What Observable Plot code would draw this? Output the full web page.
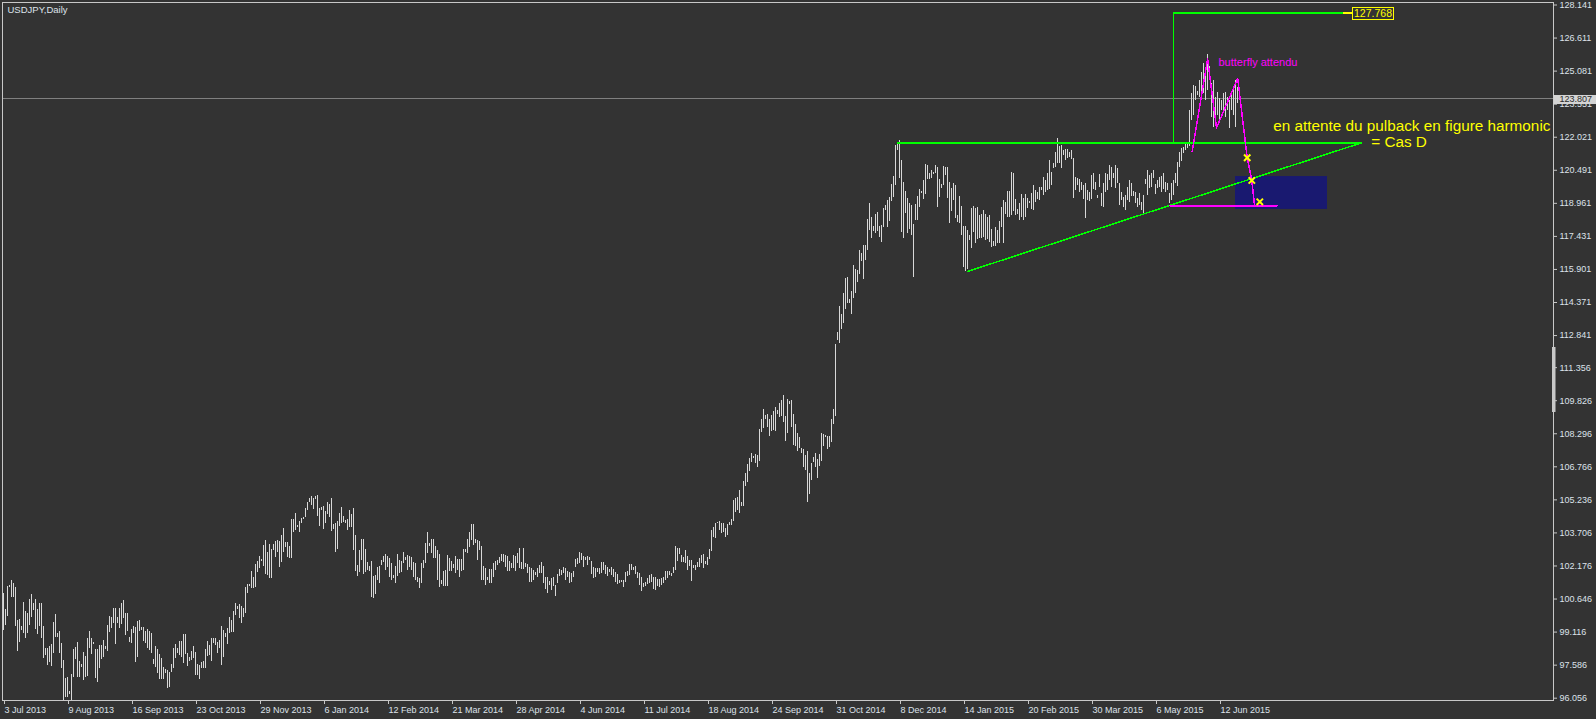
<!DOCTYPE html>
<html><head><meta charset="utf-8">
<script src="https://cdn.jsdelivr.net/npm/d3@7"></script>
<script src="https://cdn.jsdelivr.net/npm/@observablehq/plot@0.6"></script>
<style>
html,body{margin:0;padding:0;background:#333333;overflow:hidden}
#chart{width:1596px;height:719px}
</style></head><body>
<div id="chart"></div>
<script>
// Daily USDJPY bars (index 0 = 3 Jul 2013), high and low of each bar
const highs = [
100.89,100.16,101.23,101.27,101.50,101.38,101.20,99.65,99.70,99.39,
100.49,100.07,99.96,100.62,100.86,100.46,100.62,100.16,100.46,100.46,
99.37,98.37,98.34,98.45,98.54,99.58,99.93,99.07,99.16,98.60,
97.80,96.95,97.00,96.37,97.17,98.31,98.42,98.65,97.75,97.62,
98.16,97.99,98.83,99.14,98.83,98.62,98.29,98.29,98.51,98.48,
98.73,98.45,99.42,99.84,99.81,100.19,100.19,99.81,100.19,100.46,
100.58,99.99,99.99,98.88,99.22,99.37,99.34,99.61,99.65,99.31,
99.34,99.16,99.22,99.14,99.07,97.83,98.45,98.29,98.06,97.88,
97.49,97.37,97.34,97.26,97.62,98.34,98.54,98.34,98.68,98.68,
98.99,98.99,98.11,97.95,98.23,98.45,98.19,97.62,97.57,97.72,
97.77,98.29,98.68,98.50,98.83,98.83,98.83,98.65,98.73,99.39,
99.19,99.05,99.30,99.81,99.65,100.08,100.42,100.30,100.39,100.30,
100.22,101.20,101.32,101.32,101.92,101.63,102.24,102.40,102.61,102.47,
103.12,103.36,102.81,103.17,102.94,103.17,103.32,103.36,103.32,103.59,
103.90,103.28,103.25,103.08,104.31,104.31,104.59,104.05,104.23,104.36,
104.40,104.82,105.13,105.28,105.39,105.28,105.39,105.44,104.82,104.87,
104.93,104.70,105.10,105.02,105.28,104.08,104.13,104.25,104.62,104.87,
104.46,104.28,104.31,104.74,104.56,104.82,103.59,102.20,102.89,103.39,
103.39,102.94,102.35,102.15,102.40,101.69,101.74,102.12,102.15,102.45,
102.61,102.69,102.61,102.51,102.28,101.74,102.15,102.71,102.43,102.38,
102.81,102.55,102.66,102.63,102.55,102.35,102.28,101.66,101.58,102.31,
102.43,103.20,103.74,103.23,103.40,103.40,103.08,102.89,102.69,101.50,
101.92,101.97,102.66,102.51,102.38,102.23,102.62,102.46,102.46,102.46,
102.94,102.92,103.40,103.71,104.10,104.10,103.39,103.36,103.32,103.08,
102.17,102.04,101.66,102.00,102.01,102.28,102.40,102.43,102.58,102.69,
102.71,102.66,102.62,102.40,102.28,102.66,102.62,102.74,102.97,102.35,
103.00,102.28,102.23,102.12,102.04,101.97,101.89,102.04,102.20,102.35,
102.15,101.63,101.63,101.47,101.58,101.63,101.27,101.78,102.00,101.97,
102.12,102.04,101.94,101.89,101.81,101.94,102.46,102.51,102.81,102.74,
102.61,102.55,102.61,102.58,102.38,102.12,102.07,102.04,102.04,102.35,
102.32,102.20,102.12,102.00,102.12,101.99,101.89,101.78,101.50,101.50,
101.50,101.89,101.94,102.24,102.24,102.12,102.15,101.89,101.84,101.66,
101.38,101.43,101.58,101.74,101.78,101.66,101.63,101.55,101.53,101.61,
101.66,101.94,101.94,101.94,101.84,102.12,103.09,103.00,102.97,102.66,
102.58,102.89,102.61,102.43,102.43,102.20,102.20,102.35,102.51,102.66,
102.70,102.40,102.55,102.92,103.82,103.97,104.15,104.20,104.23,104.12,
104.15,103.92,104.09,104.17,104.31,105.20,105.28,105.36,105.67,105.10,
106.08,106.44,106.86,107.13,107.36,107.24,107.33,107.29,108.49,108.94,
109.40,109.14,109.19,108.94,109.14,109.32,109.49,109.37,109.68,109.83,
110.07,109.09,109.88,109.80,109.83,109.17,108.72,108.29,108.11,107.60,
107.55,107.29,107.47,106.47,106.93,107.18,107.36,107.09,107.32,108.29,
108.26,108.21,108.17,108.17,108.94,109.40,112.43,112.98,114.19,113.81,
114.77,115.50,115.54,114.51,114.89,116.08,115.88,115.85,116.78,116.62,
117.01,117.01,118.21,118.94,118.29,117.89,118.44,118.55,117.89,117.93,
118.71,118.86,119.09,119.25,119.83,120.20,121.64,121.75,121.85,120.94,
119.94,119.52,119.20,118.97,118.86,117.98,118.91,119.28,119.59,119.51,
120.02,120.74,120.71,120.33,120.48,120.40,120.71,120.60,120.05,119.83,
120.68,120.63,120.60,119.94,119.63,119.86,119.79,118.40,119.28,118.81,
117.89,117.89,117.70,117.47,118.71,118.81,118.71,118.75,118.40,118.44,
118.63,118.44,118.32,118.40,117.73,117.21,117.86,117.70,118.13,118.75,
119.09,119.01,119.52,119.52,120.40,120.33,119.12,118.66,118.97,119.37,
119.17,119.37,119.17,119.06,119.40,119.79,119.56,119.48,119.71,119.68,
120.17,120.02,120.33,120.94,120.40,120.79,121.33,121.95,121.59,121.64,
121.41,121.44,121.44,121.33,121.41,121.02,120.17,120.10,120.05,119.94,
119.79,119.86,119.56,119.48,120.25,120.35,119.94,119.32,120.30,119.40,
119.86,120.36,120.28,120.71,120.60,120.33,120.71,120.56,119.86,119.48,
119.25,119.32,119.71,120.02,119.86,119.50,119.48,119.17,119.40,119.02,
119.32,120.05,120.48,120.25,120.33,120.48,119.83,120.02,120.17,120.20,
120.33,119.94,119.86,119.40,119.89,120.02,120.33,120.87,121.33,121.48,
121.53,121.72,121.79,123.26,124.03,124.41,124.37,124.15,124.65,125.03,
125.42,125.26,125.86,125.30,124.49,124.65,123.88,124.11,123.80,123.72,
124.03,124.11,123.88,123.72,123.95,124.18,124.65,124.34
];
const lows = [
99.19,99.42,99.84,101.20,100.73,100.73,99.39,98.23,98.65,99.19,
99.04,98.83,99.04,99.42,99.78,100.12,99.24,99.00,99.37,98.83,
97.91,98.03,97.57,97.72,97.52,98.14,98.85,98.88,98.14,97.45,
95.90,96.10,96.10,96.23,95.90,97.03,97.83,97.03,97.03,97.49,
96.87,97.03,97.08,98.34,98.06,98.53,96.95,96.80,97.41,97.86,
97.95,98.29,98.23,99.11,99.27,99.53,98.53,99.53,99.27,99.45,
99.76,98.96,99.16,98.65,98.60,99.04,97.72,97.95,99.14,99.19,
98.68,98.60,98.37,98.26,98.14,97.62,97.46,97.18,96.91,96.91,
96.91,97.18,96.52,96.57,97.26,97.41,97.88,98.11,98.03,97.95,
97.68,98.06,97.52,97.75,97.80,97.88,97.11,97.11,96.91,97.41,
97.41,97.41,98.00,98.03,97.77,98.60,98.49,98.14,98.34,97.57,
97.95,98.85,98.54,99.03,99.11,99.11,99.88,100.14,99.76,99.53,
99.81,99.99,100.92,101.23,101.12,101.12,101.16,101.89,102.04,102.40,
102.15,101.78,101.74,101.58,101.58,102.89,102.55,102.81,102.12,102.35,
102.81,103.05,102.58,102.51,102.54,103.74,103.82,103.94,103.74,104.13,
104.31,104.44,104.74,105.13,104.98,104.79,105.24,104.48,104.02,104.74,
103.86,104.13,104.56,104.40,103.79,103.86,102.81,102.94,104.02,104.13,
104.20,104.16,103.82,103.97,103.94,102.89,101.93,101.69,101.89,102.43,
101.78,101.89,101.97,101.94,100.73,100.68,100.86,101.50,101.38,102.20,
102.35,101.97,102.12,101.66,101.50,101.58,101.35,101.69,101.81,101.89,
102.28,102.43,101.97,102.12,101.97,101.66,101.50,101.43,101.12,101.35,
102.04,102.28,102.74,103.09,102.74,102.51,102.51,101.50,101.16,101.30,
101.22,101.22,101.22,101.94,101.92,102.04,101.84,101.97,101.66,101.94,
101.97,102.81,102.74,103.05,103.36,103.12,103.20,102.43,102.89,101.50,
101.50,101.27,101.50,101.35,101.38,101.66,101.97,102.20,102.28,102.38,
102.35,102.12,101.94,101.92,102.04,102.04,101.90,102.28,102.04,102.01,
102.01,102.12,101.81,101.43,101.43,101.50,101.74,101.66,101.81,101.81,
101.38,101.07,100.92,101.27,101.04,101.23,100.76,101.38,101.69,101.74,
101.84,101.50,101.66,101.38,101.43,101.66,102.12,102.24,102.28,102.43,
102.12,102.43,102.20,102.43,101.78,101.58,101.63,101.89,101.78,101.81,
101.97,101.78,101.69,101.88,101.74,101.66,101.43,101.32,101.35,101.40,
101.20,101.43,101.69,101.74,101.97,101.97,101.78,101.58,101.27,101.01,
101.16,101.23,101.32,101.35,101.43,101.07,101.04,101.23,101.16,101.27,
101.35,101.50,101.58,101.74,101.69,101.84,101.97,102.38,102.69,102.35,
102.35,102.28,101.97,102.15,101.47,102.04,101.97,102.12,102.12,102.27,
102.04,102.24,102.20,102.47,102.86,103.51,103.47,104.12,103.82,103.69,
103.74,103.51,103.58,104.05,104.07,104.25,104.67,104.74,104.62,104.93,
104.94,105.87,106.02,106.56,106.98,107.13,106.93,106.75,107.03,108.34,
108.55,108.94,108.60,108.18,108.41,108.44,108.41,109.19,109.03,109.09,
108.83,107.95,108.32,109.65,108.60,107.75,107.70,107.49,107.60,107.40,
106.72,106.59,105.12,105.47,106.13,106.98,106.72,106.21,106.78,107.02,
107.70,108.14,107.55,107.64,107.91,108.72,109.11,112.61,112.49,113.10,
113.38,114.03,114.34,114.31,113.80,114.57,114.80,115.31,115.67,116.28,
115.42,116.31,116.78,117.70,117.32,117.67,117.55,117.67,117.36,117.16,
117.86,118.63,117.83,118.13,119.06,119.25,119.79,121.41,120.10,117.63,
117.35,118.47,117.55,117.73,117.47,115.51,118.17,118.17,118.75,119.40,
119.12,119.37,120.05,120.05,120.10,120.28,120.36,118.78,119.22,119.63,
119.79,120.25,119.17,118.01,118.60,119.09,118.24,118.09,118.01,117.47,
116.01,115.82,115.88,117.24,116.85,117.63,117.12,117.27,117.32,117.32,
117.40,117.24,117.27,117.16,116.90,116.96,116.96,117.09,117.12,117.86,
117.09,118.44,118.32,118.29,118.40,118.60,118.40,118.44,118.17,118.29,
118.17,118.32,118.71,118.97,118.66,118.63,119.01,119.12,119.09,119.56,
119.32,119.48,119.56,119.59,119.79,120.56,120.63,120.79,120.79,120.56,
121.18,120.94,121.02,121.07,120.97,119.17,119.56,119.79,119.48,119.56,
119.12,118.24,119.09,119.06,119.15,119.60,119.55,119.17,119.71,118.80,
118.78,119.48,119.55,120.02,119.71,120.10,119.63,119.86,118.86,119.09,
118.78,118.63,119.09,119.02,119.28,119.30,118.94,118.75,118.86,118.63,
118.47,119.85,119.32,119.63,119.71,120.10,119.37,119.63,119.71,119.48,
119.59,119.48,119.55,118.94,119.09,119.32,119.86,119.74,120.64,120.91,
121.25,121.41,121.48,121.59,122.79,123.02,123.72,123.95,123.88,123.72,
124.03,123.72,124.18,124.90,122.95,122.49,122.64,123.02,122.64,123.26,
123.10,122.95,123.26,122.41,123.26,123.02,122.49,123.57
];

// time axis: one label every 32 bars
const tickIndex = [0,32,64,96,128,160,192,224,256,288,320,352,384,416,448,480,512,544,576,608];
const tickLabels = ["3 Jul 2013","9 Aug 2013","16 Sep 2013","23 Oct 2013","29 Nov 2013","6 Jan 2014",
  "12 Feb 2014","21 Mar 2014","28 Apr 2014","4 Jun 2014","11 Jul 2014","18 Aug 2014","24 Sep 2014",
  "31 Oct 2014","8 Dec 2014","14 Jan 2015","20 Feb 2015","30 Mar 2015","6 May 2015","12 Jun 2015"];
const priceTicks = [96.056,97.586,99.116,100.646,102.176,103.706,105.236,106.766,108.296,109.826,
  111.356,112.841,114.371,115.901,117.431,118.961,120.491,122.021,123.551,125.081,126.611,128.141];

const currentPrice = 123.807;
const targetPrice = 127.768;

// drawn objects (bar index, price)
const resistance = [{i: 447, p: 121.763}, {i: 679, p: 121.763}];
const trendline = [{i: 482, p: 115.807}, {i: 679, p: 121.763}];
const targetLine = [{i: 585, p: 121.763}, {i: 585, p: 127.768}, {i: 670, p: 127.768}];
const targetLeader = [{i: 670, p: 127.768}, {i: 674.5, p: 127.768}];
const targetBox = [{i1: 674.5, i2: 695, p1: 127.456, p2: 128.011}];
const butterflyPath = [
  {i: 594.35, p: 121.36}, {i: 602.05, p: 125.63}, {i: 606.5, p: 122.45}, {i: 617.1, p: 124.74},
  {i: 621.85, p: 121.07}, {i: 624.15, p: 120.02}, {i: 625.5, p: 118.88}
];
const floorLine = [{i: 583.15, p: 118.847}, {i: 636.85, p: 118.847}];
const crosses = [{i: 621.85, p: 121.07}, {i: 624.15, p: 120.02}, {i: 628.15, p: 119.03}];
const zone = [{i1: 616, i2: 662, p1: 118.68, p2: 120.20}];
const notes = [
  {i: 607.5, p: 125.494, text: "butterfly attendu", color: "#ff00ff", size: 11},
  {i: 634.85, p: 122.531, text: "en attente du pulback en figure harmonic", color: "#ffff00", size: 15.3},
  {i: 683.85, p: 121.79, text: "= Cas D", color: "#ffff00", size: 15.3}
];
const priceTag = [{i1: 775.25, i2: 796.5, p1: 123.535, p2: 123.952}];
const axisGrip = [{i1: 774.5, i2: 776.25, p1: 109.28, p2: 112.288}];

const bars = highs.map((h, i) => ({i, high: h, low: lows[i]}));
const FONT = "'Liberation Sans', Arial, sans-serif";
const AXIS = "#c8c8c8";
const LABEL = "#dde2ea";

const chart = Plot.plot({
  width: 1596, height: 719,
  marginLeft: 2, marginTop: 2, marginRight: 43, marginBottom: 19,
  style: {background: "#333333", color: LABEL, fontFamily: FONT, fontSize: "9px", maxWidth: "none"},
  x: {domain: [0, 617], range: [3, 1237]},
  y: {domain: [96.056, 128.141], range: [697.7, 4.5]},
  marks: [
    Plot.rect(zone, {x1: "i1", x2: "i2", y1: "p1", y2: "p2", fill: "#191970"}),
    Plot.ruleY([currentPrice], {stroke: "#808080", shapeRendering: "crispEdges"}),
    Plot.ruleX(bars, {x: "i", y1: "low", y2: "high", stroke: "#d8d8d8", strokeWidth: 1, shapeRendering: "crispEdges"}),
    Plot.line(resistance, {x: "i", y: "p", stroke: "#00ff00", shapeRendering: "crispEdges"}),
    Plot.line(trendline, {x: "i", y: "p", stroke: "#00ff00", shapeRendering: "crispEdges"}),
    Plot.line(targetLine, {x: "i", y: "p", stroke: "#00ff00", shapeRendering: "crispEdges"}),
    Plot.line(targetLeader, {x: "i", y: "p", stroke: "#ffff00", shapeRendering: "crispEdges"}),
    Plot.rect(targetBox, {x1: "i1", x2: "i2", y1: "p1", y2: "p2", fill: "#333333", stroke: "#ffff00", shapeRendering: "crispEdges"}),
    Plot.text([targetPrice], {x: () => 684.75, y: () => 127.74, text: d => d.toFixed(3), fill: "#ffff00", fontSize: 10.5, textAnchor: "middle", lineAnchor: "middle"}),
    Plot.line(butterflyPath, {x: "i", y: "p", stroke: "#ff00ff", shapeRendering: "crispEdges"}),
    Plot.line(floorLine, {x: "i", y: "p", stroke: "#ff00ff", shapeRendering: "crispEdges"}),
    Plot.dot(crosses, {x: "i", y: "p", symbol: "times", r: 3, stroke: "#ffff00", strokeWidth: 2}),
    Plot.text(notes, {x: "i", y: "p", text: "text", fill: "color", fontSize: "size", textAnchor: "start", lineAnchor: "middle"}),
    Plot.text(["USDJPY,Daily"], {frameAnchor: "top-left", dx: 5, dy: 4, textAnchor: "start", lineAnchor: "top", fill: LABEL, fontSize: 9.5}),
    Plot.frame({stroke: AXIS}),
    Plot.axisY(priceTicks, {anchor: "right", tickFormat: d => d.toFixed(3), tickSize: 3, tickPadding: 3, stroke: AXIS, fill: LABEL, fontSize: 9, label: null}),
    Plot.axisX(tickIndex, {anchor: "bottom", tickFormat: d => tickLabels[tickIndex.indexOf(d)], tickSize: 4, tickPadding: 2, textAnchor: "start", dx: 1, stroke: AXIS, fill: LABEL, fontSize: 9, label: null}),
    Plot.rect(axisGrip, {x1: "i1", x2: "i2", y1: "p1", y2: "p2", fill: AXIS}),
    Plot.rect(priceTag, {x1: "i1", x2: "i2", y1: "p1", y2: "p2", fill: "#d4d4d4"}),
    Plot.text([currentPrice], {x: () => 778, y: d => d, text: d => d.toFixed(3), fill: "#2a2a2a", fontSize: 9, textAnchor: "start", lineAnchor: "middle"})
  ]
});
document.getElementById("chart").append(chart);
</script>
</body></html>
